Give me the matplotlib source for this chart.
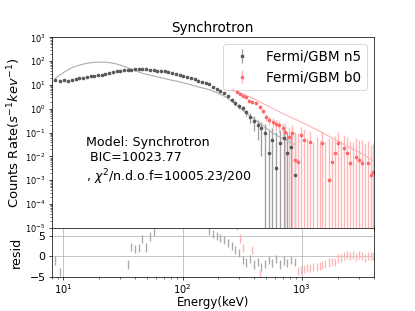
import matplotlib
matplotlib.use("Agg")
import matplotlib.pyplot as plt
from matplotlib.ticker import LogLocator

# Fermi/GBM n5 (NaI)
n5_energy = [8.5, 9.4, 10.2, 11.0, 11.8, 12.7, 13.6, 14.6, 15.7, 16.9,
             18.1, 19.5, 20.9, 22.5, 24.1, 25.9, 27.9, 29.9, 32.2, 34.6,
             37.1, 39.9, 42.9, 46.0, 49.5, 53.1, 57.1, 61.3, 65.9, 70.8,
             76.0, 81.7, 87.7, 94.3, 101, 109, 117, 126, 135, 145,
             156, 167, 180, 193, 208, 223, 240, 258, 277, 297,
             319, 343, 369, 396, 426, 457, 491, 528, 567, 609,
             655, 703, 756, 812, 872]
n5_rate = [16, 15, 16, 15, 16, 17, 20, 19, 22, 24,
           23, 26, 27, 28, 31, 35, 37, 38, 42, 43,
           44, 45, 47, 45, 46, 44, 41, 40, 39, 37,
           34, 31, 28, 26, 24, 21, 19, 17, 15, 13.5,
           12, 10.5, 8.5, 7.0, 5.6, 4.5, 3.3, 2.4, 1.7, 1.3,
           1.05, 0.7, 0.45, 0.3, 0.2, 0.15, 0.1, 0.014, 0.05, 0.0033,
           0.035, 0.06, 0.014, 0.025, 0.0017]
n5_err = [1.0, 1.0, 1.0, 1.0, 1.0, 1.1, 1.1, 1.1, 1.2, 1.2,
          1.2, 1.3, 1.3, 1.3, 1.4, 1.4, 1.5, 1.5, 1.5, 1.6,
          1.6, 1.6, 1.7, 1.7, 1.7, 1.6, 1.6, 1.5, 1.5, 1.4,
          1.4, 1.3, 1.3, 1.2, 1.2, 1.1, 1.0, 1.0, 0.9, 0.9,
          0.8, 0.8, 0.7, 0.6, 0.6, 0.5, 0.45, 0.4, 0.35, 0.3,
          0.25, 0.22, 0.2, 0.18, 0.15, 0.14, 0.13, 0.12, 0.11, 0.1,
          0.1, 0.09, 0.09, 0.08, 0.08]
n5_model = [18, 27, 35, 44, 53, 61, 68, 75, 81, 86,
            89, 91, 91, 90, 87, 82, 76, 69, 61, 53,
            46, 40, 35, 31, 28, 26, 24, 22, 20, 18.5,
            17, 15.8, 14.7, 13.5, 12.4, 11.3, 10.2, 9.2, 8.3, 7.6,
            7.0, 6.3, 5.5, 4.8, 4.1, 3.4, 2.7, 2.1, 1.6, 1.2,
            0.88, 0.67, 0.50, 0.38, 0.29, 0.22, 0.17, 0.13, 0.10, 0.08,
            0.065, 0.055, 0.046, 0.038, 0.032]
n5_resid = [-1.0, -3.9, -9, -14, -18, -20, -22, -24, -25, -26,
            -28, -27, -26, -25, -23, -21, -18, -16, -7, -2.0,
            2.4, 1.9, 2.1, 4.3, 2.2, 4.9, 6.1, 8, 10, 12,
            13, 14, 14, 15, 15, 14, 14, 13, 12, 11,
            9, 6.3, 5.6, 5.0, 4.6, 4.0, 3.3, 2.6, 1.6, 0.8,
            -0.8, -1.5, -0.6, -2.0, -1.3, -2.6, -1.8, -0.9, -1.7, -0.7,
            -2.0, -1.0, -1.6, -0.8, -1.4]

# Fermi/GBM b0 (BGO)
b0_energy = [266, 285, 303, 320, 340, 360, 385, 410, 445, 470,
             500, 535, 570, 610, 650, 690, 730, 780, 830, 880,
             930, 990, 1050, 1110, 1180, 1250, 1330, 1410, 1490, 1580,
             1680, 1780, 1890, 2000, 2120, 2250, 2380, 2520, 2670, 2830,
             3000, 3180, 3370, 3570, 3780, 3950]
b0_rate = [6.6, 5.0, 4.1, 3.4, 3.0, 2.2, 1.9, 1.7, 1.2, 0.8,
           0.46, 0.34, 0.28, 0.23, 0.21, 0.15, 0.11, 0.066, 0.094, 0.0072,
           0.006, 0.08, 0.05, -0.01, 0.04, -0.02, -0.005, -0.01, 0.036, -0.01,
           0.001, 0.006, 0.014, 0.036, -0.005, 0.022, 0.014, 0.0053, -0.004, 0.0095,
           0.007, 0.0053, -0.003, 0.0053, 0.0017, 0.0023]
b0_err = [0.5, 0.45, 0.4, 0.35, 0.3, 0.28, 0.25, 0.22, 0.2, 0.18,
          0.15, 0.13, 0.12, 0.11, 0.11, 0.1, 0.11, 0.1, 0.11, 0.1,
          0.09, 0.1, 0.09, 0.07, 0.08, 0.06, 0.07, 0.06, 0.07, 0.05,
          0.06, 0.05, 0.06, 0.07, 0.05, 0.06, 0.05, 0.04, 0.045, 0.05,
          0.04, 0.045, 0.035, 0.04, 0.03, 0.035]
b0_model = [6.0, 5.3, 4.7, 4.2, 3.7, 3.2, 2.8, 2.4, 2.0, 1.7,
            1.45, 1.22, 1.04, 0.88, 0.75, 0.64, 0.56, 0.48, 0.41, 0.36,
            0.32, 0.27, 0.24, 0.21, 0.18, 0.155, 0.135, 0.115, 0.10, 0.085,
            0.072, 0.061, 0.052, 0.044, 0.038, 0.032, 0.028, 0.024, 0.021, 0.018,
            0.0155, 0.013, 0.011, 0.0092, 0.0078, 0.0068]
b0_resid = [8.5, 7.5, 4.4, 2.0, -6, -9, 1.5, -7, -4.3, -10,
            -12, -13, -14, -13, -12, -11, -10, -9, -8, -6,
            -3.5, -3.3, -3.1, -2.9, -2.8, -2.7, -2.5, -2.3, -2.1, -1.9,
            -1.5, -1.3, -1.4, -0.5, -0.3, 0.0, 0.3, 0.1, 0.3, -0.2,
            0.3, 0.1, -0.3, 0.2, 0.0, 0.2]
resid_err = 1.0

fig = plt.figure(figsize=(415 / 65, 311 / 65), dpi=65)
gs = fig.add_gridspec(2, 1, height_ratios=[3.9, 1], hspace=0)
ax = fig.add_subplot(gs[0])
ax2 = fig.add_subplot(gs[1], sharex=ax)

ax.errorbar(n5_energy, n5_rate, yerr=n5_err, fmt='o', ms=3, color='#555555',
            ecolor='#a0a0a0', elinewidth=1.5, label='Fermi/GBM n5')
ax.plot(n5_energy, n5_model, color='#aaaaaa', lw=1.2)
ax.errorbar(b0_energy, b0_rate, yerr=b0_err, fmt='o', ms=3, color='#ff6464',
            ecolor='#ffb6b6', elinewidth=1.5, label='Fermi/GBM b0')
ax.plot(b0_energy, b0_model, color='#ffb0b0', lw=1.2)

ax.set_xscale('log')
ax.set_yscale('log')
ax.set_xlim(8, 4000)
ax.set_ylim(1e-5, 1e3)
ax.yaxis.set_major_locator(LogLocator(base=10, numticks=20))
ax.yaxis.set_minor_locator(LogLocator(base=10, subs=range(2, 10), numticks=20))
ax.tick_params(labelbottom=False, labelsize=9)
ax.set_title('Synchrotron', fontsize=15)
ax.set_ylabel('Counts Rate($s^{-1}kev^{-1}$)', fontsize=14.5)
ax.legend(loc='upper right', fontsize=15)
ax.text(0.105, 0.48, 'Model: Synchrotron\n BIC=10023.77\n, $\\chi^2$/n.d.o.f=10005.23/200',
        transform=ax.transAxes, fontsize=14, va='top', ha='left')

ax2.errorbar(n5_energy, n5_resid, yerr=resid_err, fmt='none', ecolor='#aaaaaa', elinewidth=1.5)
ax2.errorbar(b0_energy, b0_resid, yerr=resid_err, fmt='none', ecolor='#ffb6b6', elinewidth=1.5)
ax2.set_ylim(-5, 7)
ax2.set_yticks([-5, 0, 5])
ax2.grid(True, color='#b0b0b0', lw=0.8)
ax2.tick_params(axis='y', labelsize=12)
ax2.tick_params(axis='x', labelsize=11, pad=2)
ax2.set_ylabel('resid', fontsize=14)
ax2.set_xlabel('Energy(keV)', fontsize=13, labelpad=1)

ax.yaxis.set_label_coords(-0.09, 0.5)
ax2.yaxis.set_label_coords(-0.09, 0.5)

fig.savefig('out.png', dpi=65)
